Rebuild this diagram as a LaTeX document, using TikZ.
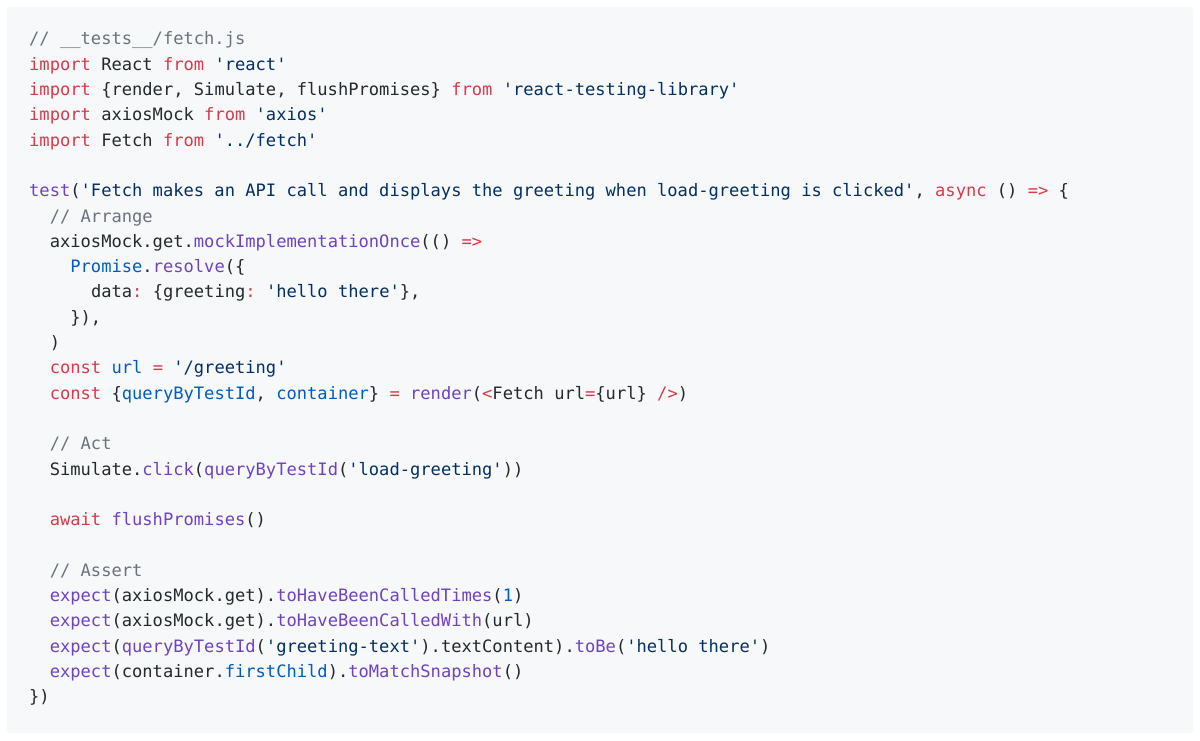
\documentclass[tikz,border=0pt]{standalone}
\usepackage{fontspec}
\setmonofont{DejaVu Sans Mono}
\definecolor{bgc}{HTML}{F6F8FA}
\definecolor{txt}{HTML}{24292E}
\definecolor{kw}{HTML}{D73A49}
\definecolor{str}{HTML}{032F62}
\definecolor{fn}{HTML}{6F42C1}
\definecolor{bl}{HTML}{005CC5}
\definecolor{cm}{HTML}{6A737D}
\newcommand\K[1]{\textcolor{kw}{#1}}
\newcommand\St[1]{\textcolor{str}{#1}}
\newcommand\Fn[1]{\textcolor{fn}{#1}}
\newcommand\Bl[1]{\textcolor{bl}{#1}}
\newcommand\Cm[1]{\textcolor{cm}{#1}}
\begin{document}
\begin{tikzpicture}[x=1pt,y=1pt,
  codeline/.style={anchor=base west,inner sep=0pt,text=txt,font=\ttfamily\fontsize{17.1}{20}\selectfont}]
\useasboundingbox (0,0) rectangle (1200,740);
\fill[white] (0,0) rectangle (1200,740);
\fill[bgc,rounded corners=3pt] (7,7) rectangle (1193,733);
\def\cw{10.3}
\def\L#1#2#3{\node[codeline] (l#1) at ({29+#2*\cw},{740-45-25.3*(#1-1)}) {#3};}
\L{1}{0}{\Cm{// \_\_tests\_\_/fetch.js}}
\L{2}{0}{\K{import} React \K{from} \St{'react'}}
\L{3}{0}{\K{import} \{render, Simulate, flushPromises\} \K{from} \St{'react-testing-library'}}
\L{4}{0}{\K{import} axiosMock \K{from} \St{'axios'}}
\L{5}{0}{\K{import} Fetch \K{from} \St{'../fetch'}}
\L{7}{0}{\Fn{test}(\St{'Fetch makes an API call and displays the greeting when load-greeting is clicked'}, \K{async} () \K{=>} \{}
\L{8}{2}{\Cm{// Arrange}}
\L{9}{2}{axiosMock.get.\Fn{mockImplementationOnce}(() \K{=>}}
\L{10}{4}{\Bl{Promise}.\Fn{resolve}(\{}
\L{11}{6}{data\K{:} \{greeting\K{:} \St{'hello there'}\},}
\L{12}{4}{\}),}
\L{13}{2}{)}
\L{14}{2}{\K{const} \Bl{url} \K{=} \St{'/greeting'}}
\L{15}{2}{\K{const} \{\Bl{queryByTestId}, \Bl{container}\} \K{=} \Fn{render}(\K{<}Fetch url\K{=}\{url\} \K{/>})}
\L{17}{2}{\Cm{// Act}}
\L{18}{2}{Simulate.\Fn{click}(\Fn{queryByTestId}(\St{'load-greeting'}))}
\L{20}{2}{\K{await} \Fn{flushPromises}()}
\L{22}{2}{\Cm{// Assert}}
\L{23}{2}{\Fn{expect}(axiosMock.get).\Fn{toHaveBeenCalledTimes}(\Bl{1})}
\L{24}{2}{\Fn{expect}(axiosMock.get).\Fn{toHaveBeenCalledWith}(url)}
\L{25}{2}{\Fn{expect}(\Fn{queryByTestId}(\St{'greeting-text'}).textContent).\Fn{toBe}(\St{'hello there'})}
\L{26}{2}{\Fn{expect}(container.\Bl{firstChild}).\Fn{toMatchSnapshot}()}
\L{27}{0}{\})}
\end{tikzpicture}
\end{document}
